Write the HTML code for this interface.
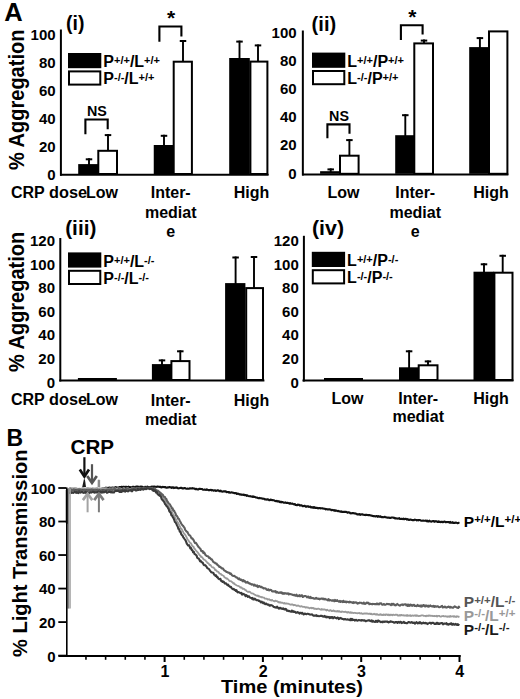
<!DOCTYPE html>
<html><head><meta charset="utf-8"><style>
html,body{margin:0;padding:0;background:#fff;width:520px;height:699px;overflow:hidden}
svg{display:block}
text{font-family:"Liberation Sans",sans-serif;font-weight:bold}
</style></head><body>
<svg width="520" height="699" viewBox="0 0 520 699">
<rect width="520" height="699" fill="#fff"/>
<text x="4.20" y="20.60" font-size="25.5" text-anchor="start" fill="#000" >A</text>
<text x="6.40" y="445.80" font-size="23" text-anchor="start" fill="#000" >B</text>
<text x="0" y="0" font-size="21.5" text-anchor="middle" textLength="140.4" lengthAdjust="spacingAndGlyphs" transform="translate(23.50,99.80) rotate(-90)">% Aggregation</text>
<text x="0" y="0" font-size="21.5" text-anchor="middle" textLength="140.1" lengthAdjust="spacingAndGlyphs" transform="translate(23.50,301.95) rotate(-90)">% Aggregation</text>
<text x="0" y="0" font-size="21" text-anchor="middle" textLength="207.5" lengthAdjust="spacingAndGlyphs" transform="translate(26.60,553.25) rotate(-90)">% Light Transmission</text>
<text x="66.00" y="29.50" font-size="19.5" text-anchor="start" fill="#000" >(i)</text>
<line x1="60.90" y1="29.50" x2="60.90" y2="175.75" stroke="#000" stroke-width="2" stroke-linecap="butt"/>
<line x1="60.00" y1="174.75" x2="268.60" y2="174.75" stroke="#000" stroke-width="2" stroke-linecap="butt"/>
<text x="55.60" y="39.50" font-size="15" text-anchor="end" fill="#000" >100</text>
<text x="55.60" y="67.60" font-size="15" text-anchor="end" fill="#000" >80</text>
<text x="55.60" y="95.70" font-size="15" text-anchor="end" fill="#000" >60</text>
<text x="55.60" y="123.80" font-size="15" text-anchor="end" fill="#000" >40</text>
<text x="55.60" y="151.90" font-size="15" text-anchor="end" fill="#000" >20</text>
<text x="55.60" y="180.00" font-size="15" text-anchor="end" fill="#000" >0</text>
<rect x="68.00" y="53.00" width="33.30" height="15.20" fill="#000"/>
<rect x="69.00" y="71.40" width="31.30" height="13.20" fill="#fff" stroke="#000" stroke-width="2"/>
<text x="103.30" y="67.20" font-size="16" fill="#000"><tspan font-size="16" dy="0.00">P</tspan><tspan font-size="11" dy="-3.00">+/+</tspan><tspan font-size="16" dy="3.00">/L</tspan><tspan font-size="11" dy="-3.00">+/+</tspan></text>
<text x="103.30" y="84.40" font-size="16" fill="#000"><tspan font-size="16" dy="0.00">P</tspan><tspan font-size="11" dy="-3.00">-/-</tspan><tspan font-size="16" dy="3.00">/L</tspan><tspan font-size="11" dy="-3.00">+/+</tspan></text>
<line x1="89.00" y1="158.30" x2="89.00" y2="165.10" stroke="#000" stroke-width="1.9" stroke-linecap="butt"/>
<line x1="85.75" y1="159.30" x2="92.25" y2="159.30" stroke="#000" stroke-width="2" stroke-linecap="butt"/>
<rect x="78.20" y="164.10" width="20.60" height="9.90" fill="#000"/>
<line x1="108.00" y1="134.10" x2="108.00" y2="150.80" stroke="#000" stroke-width="1.9" stroke-linecap="butt"/>
<line x1="104.75" y1="135.10" x2="111.25" y2="135.10" stroke="#000" stroke-width="2" stroke-linecap="butt"/>
<rect x="98.30" y="150.80" width="18.70" height="23.20" fill="#fff" stroke="#000" stroke-width="2"/>
<line x1="164.00" y1="134.80" x2="164.00" y2="146.00" stroke="#000" stroke-width="1.9" stroke-linecap="butt"/>
<line x1="160.75" y1="135.80" x2="167.25" y2="135.80" stroke="#000" stroke-width="2" stroke-linecap="butt"/>
<rect x="153.75" y="145.00" width="20.65" height="29.00" fill="#000"/>
<line x1="183.00" y1="40.00" x2="183.00" y2="61.70" stroke="#000" stroke-width="1.9" stroke-linecap="butt"/>
<line x1="179.75" y1="41.00" x2="186.25" y2="41.00" stroke="#000" stroke-width="2" stroke-linecap="butt"/>
<rect x="173.70" y="61.70" width="18.20" height="112.30" fill="#fff" stroke="#000" stroke-width="2"/>
<line x1="239.50" y1="40.60" x2="239.50" y2="59.00" stroke="#000" stroke-width="1.9" stroke-linecap="butt"/>
<line x1="236.25" y1="41.60" x2="242.75" y2="41.60" stroke="#000" stroke-width="2" stroke-linecap="butt"/>
<rect x="229.20" y="58.00" width="20.60" height="116.00" fill="#000"/>
<line x1="258.00" y1="44.40" x2="258.00" y2="61.60" stroke="#000" stroke-width="1.9" stroke-linecap="butt"/>
<line x1="254.75" y1="45.40" x2="261.25" y2="45.40" stroke="#000" stroke-width="2" stroke-linecap="butt"/>
<rect x="250.40" y="61.60" width="17.00" height="112.40" fill="#fff" stroke="#000" stroke-width="2"/>
<path d="M85.40 134.30 V119.50 H107.70 V129.20" fill="none" stroke="#000" stroke-width="2.1"/>
<text x="96.85" y="116.30" font-size="14.3" text-anchor="middle" fill="#000" >NS</text>
<path d="M159.40 41.70 V26.50 H181.40 V36.40" fill="none" stroke="#000" stroke-width="2.1"/>
<text x="171.00" y="25.30" font-size="21" text-anchor="middle" fill="#000" >*</text>
<text x="11.00" y="197.60" font-size="16" text-anchor="start" fill="#000" >CRP</text>
<text x="49.00" y="197.60" font-size="16" text-anchor="start" fill="#000" textLength="38" lengthAdjust="spacingAndGlyphs">dose</text>
<text x="86.00" y="197.60" font-size="16" text-anchor="start" fill="#000" >Low</text>
<text x="170.70" y="198.20" font-size="16" text-anchor="middle" fill="#000" >Inter-</text>
<text x="170.70" y="217.60" font-size="16" text-anchor="middle" fill="#000" >mediat</text>
<text x="170.70" y="237.00" font-size="16" text-anchor="middle" fill="#000" >e</text>
<text x="251.50" y="198.20" font-size="16" text-anchor="middle" fill="#000" >High</text>
<text x="311.60" y="30.50" font-size="19.5" text-anchor="start" fill="#000" textLength="24.6" lengthAdjust="spacingAndGlyphs">(ii)</text>
<line x1="302.85" y1="30.50" x2="302.85" y2="175.50" stroke="#000" stroke-width="2" stroke-linecap="butt"/>
<line x1="302.00" y1="174.50" x2="508.40" y2="174.50" stroke="#000" stroke-width="2" stroke-linecap="butt"/>
<text x="296.60" y="38.00" font-size="15" text-anchor="end" fill="#000" >100</text>
<text x="296.60" y="66.10" font-size="15" text-anchor="end" fill="#000" >80</text>
<text x="296.60" y="94.20" font-size="15" text-anchor="end" fill="#000" >60</text>
<text x="296.60" y="122.30" font-size="15" text-anchor="end" fill="#000" >40</text>
<text x="296.60" y="150.40" font-size="15" text-anchor="end" fill="#000" >20</text>
<text x="296.60" y="178.60" font-size="15" text-anchor="end" fill="#000" >0</text>
<rect x="312.00" y="52.60" width="33.30" height="15.20" fill="#000"/>
<rect x="313.00" y="71.00" width="31.30" height="13.20" fill="#fff" stroke="#000" stroke-width="2"/>
<text x="347.30" y="66.80" font-size="16" fill="#000"><tspan font-size="16" dy="0.00">L</tspan><tspan font-size="11" dy="-3.00">+/+</tspan><tspan font-size="16" dy="3.00">/P</tspan><tspan font-size="11" dy="-3.00">+/+</tspan></text>
<text x="347.30" y="84.00" font-size="16" fill="#000"><tspan font-size="16" dy="0.00">L</tspan><tspan font-size="11" dy="-3.00">-/-</tspan><tspan font-size="16" dy="3.00">/P</tspan><tspan font-size="11" dy="-3.00">+/+</tspan></text>
<line x1="330.70" y1="168.40" x2="330.70" y2="172.20" stroke="#000" stroke-width="1.9" stroke-linecap="butt"/>
<line x1="327.45" y1="169.40" x2="333.95" y2="169.40" stroke="#000" stroke-width="2" stroke-linecap="butt"/>
<rect x="320.10" y="171.20" width="20.10" height="2.60" fill="#000"/>
<line x1="349.40" y1="139.10" x2="349.40" y2="155.70" stroke="#000" stroke-width="1.9" stroke-linecap="butt"/>
<line x1="346.15" y1="140.10" x2="352.65" y2="140.10" stroke="#000" stroke-width="2" stroke-linecap="butt"/>
<rect x="340.00" y="155.70" width="18.60" height="18.10" fill="#fff" stroke="#000" stroke-width="2"/>
<line x1="405.30" y1="114.20" x2="405.30" y2="136.20" stroke="#000" stroke-width="1.9" stroke-linecap="butt"/>
<line x1="402.05" y1="115.20" x2="408.55" y2="115.20" stroke="#000" stroke-width="2" stroke-linecap="butt"/>
<rect x="395.20" y="135.20" width="20.00" height="38.60" fill="#000"/>
<line x1="424.00" y1="39.60" x2="424.00" y2="43.40" stroke="#000" stroke-width="1.9" stroke-linecap="butt"/>
<line x1="420.75" y1="40.60" x2="427.25" y2="40.60" stroke="#000" stroke-width="2" stroke-linecap="butt"/>
<rect x="414.30" y="43.40" width="18.70" height="130.40" fill="#fff" stroke="#000" stroke-width="2"/>
<line x1="479.90" y1="37.10" x2="479.90" y2="48.10" stroke="#000" stroke-width="1.9" stroke-linecap="butt"/>
<line x1="476.65" y1="38.10" x2="483.15" y2="38.10" stroke="#000" stroke-width="2" stroke-linecap="butt"/>
<rect x="469.20" y="47.10" width="19.60" height="126.70" fill="#000"/>
<rect x="489.00" y="31.40" width="18.40" height="142.40" fill="#fff" stroke="#000" stroke-width="2"/>
<path d="M327.40 138.30 V124.40 H349.50 V133.80" fill="none" stroke="#000" stroke-width="2.1"/>
<text x="339.05" y="120.60" font-size="14.3" text-anchor="middle" fill="#000" >NS</text>
<path d="M400.90 40.10 V25.20 H422.60 V34.60" fill="none" stroke="#000" stroke-width="2.1"/>
<text x="412.35" y="24.30" font-size="21" text-anchor="middle" fill="#000" >*</text>
<text x="327.50" y="198.40" font-size="16" text-anchor="start" fill="#000" >Low</text>
<text x="415.20" y="198.20" font-size="16" text-anchor="middle" fill="#000" >Inter-</text>
<text x="415.20" y="217.60" font-size="16" text-anchor="middle" fill="#000" >mediat</text>
<text x="415.20" y="237.00" font-size="16" text-anchor="middle" fill="#000" >e</text>
<text x="491.10" y="198.40" font-size="16" text-anchor="middle" fill="#000" >High</text>
<text x="65.20" y="235.30" font-size="19.5" text-anchor="start" fill="#000" textLength="31.2" lengthAdjust="spacingAndGlyphs">(iii)</text>
<line x1="60.30" y1="238.00" x2="60.30" y2="381.50" stroke="#000" stroke-width="2" stroke-linecap="butt"/>
<line x1="59.30" y1="380.40" x2="264.40" y2="380.40" stroke="#000" stroke-width="2" stroke-linecap="butt"/>
<text x="55.00" y="246.00" font-size="15" text-anchor="end" fill="#000" >120</text>
<text x="55.00" y="269.60" font-size="15" text-anchor="end" fill="#000" >100</text>
<text x="55.00" y="293.20" font-size="15" text-anchor="end" fill="#000" >80</text>
<text x="55.00" y="316.80" font-size="15" text-anchor="end" fill="#000" >60</text>
<text x="55.00" y="340.40" font-size="15" text-anchor="end" fill="#000" >40</text>
<text x="55.00" y="364.00" font-size="15" text-anchor="end" fill="#000" >20</text>
<text x="55.00" y="387.60" font-size="15" text-anchor="end" fill="#000" >0</text>
<rect x="68.00" y="252.40" width="33.30" height="15.20" fill="#000"/>
<rect x="69.00" y="270.80" width="31.30" height="13.20" fill="#fff" stroke="#000" stroke-width="2"/>
<text x="103.30" y="266.60" font-size="16" fill="#000"><tspan font-size="16" dy="0.00">P</tspan><tspan font-size="11" dy="-3.00">+/+</tspan><tspan font-size="16" dy="3.00">/L</tspan><tspan font-size="11" dy="-3.00">-/-</tspan></text>
<text x="103.30" y="283.80" font-size="16" fill="#000"><tspan font-size="16" dy="0.00">P</tspan><tspan font-size="11" dy="-3.00">-/-</tspan><tspan font-size="16" dy="3.00">/L</tspan><tspan font-size="11" dy="-3.00">-/-</tspan></text>
<rect x="77.90" y="378.00" width="39.00" height="2.50" fill="#000"/>
<line x1="162.00" y1="359.40" x2="162.00" y2="365.10" stroke="#000" stroke-width="1.9" stroke-linecap="butt"/>
<line x1="158.75" y1="360.40" x2="165.25" y2="360.40" stroke="#000" stroke-width="2" stroke-linecap="butt"/>
<rect x="151.90" y="364.10" width="19.60" height="15.90" fill="#000"/>
<line x1="180.30" y1="350.30" x2="180.30" y2="361.10" stroke="#000" stroke-width="1.9" stroke-linecap="butt"/>
<line x1="177.05" y1="351.30" x2="183.55" y2="351.30" stroke="#000" stroke-width="2" stroke-linecap="butt"/>
<rect x="171.40" y="361.10" width="18.10" height="18.90" fill="#fff" stroke="#000" stroke-width="2"/>
<line x1="235.60" y1="256.50" x2="235.60" y2="284.10" stroke="#000" stroke-width="1.9" stroke-linecap="butt"/>
<line x1="232.35" y1="257.50" x2="238.85" y2="257.50" stroke="#000" stroke-width="2" stroke-linecap="butt"/>
<rect x="225.10" y="283.10" width="20.30" height="96.90" fill="#000"/>
<line x1="254.00" y1="256.00" x2="254.00" y2="288.10" stroke="#000" stroke-width="1.9" stroke-linecap="butt"/>
<line x1="250.75" y1="257.00" x2="257.25" y2="257.00" stroke="#000" stroke-width="2" stroke-linecap="butt"/>
<rect x="246.20" y="288.10" width="16.80" height="91.90" fill="#fff" stroke="#000" stroke-width="2"/>
<text x="11.00" y="405.30" font-size="16" text-anchor="start" fill="#000" >CRP</text>
<text x="49.00" y="405.30" font-size="16" text-anchor="start" fill="#000" textLength="38" lengthAdjust="spacingAndGlyphs">dose</text>
<text x="86.00" y="405.30" font-size="16" text-anchor="start" fill="#000" >Low</text>
<text x="170.70" y="405.90" font-size="16" text-anchor="middle" fill="#000" >Inter-</text>
<text x="170.70" y="425.30" font-size="16" text-anchor="middle" fill="#000" >mediat</text>
<text x="251.50" y="405.90" font-size="16" text-anchor="middle" fill="#000" >High</text>
<text x="312.00" y="235.30" font-size="19.5" text-anchor="start" fill="#000" textLength="32" lengthAdjust="spacingAndGlyphs">(iv)</text>
<line x1="303.90" y1="235.80" x2="303.90" y2="381.50" stroke="#000" stroke-width="2" stroke-linecap="butt"/>
<line x1="302.50" y1="380.50" x2="513.50" y2="380.50" stroke="#000" stroke-width="2" stroke-linecap="butt"/>
<text x="298.80" y="246.00" font-size="15" text-anchor="end" fill="#000" >120</text>
<text x="298.80" y="269.60" font-size="15" text-anchor="end" fill="#000" >100</text>
<text x="298.80" y="293.20" font-size="15" text-anchor="end" fill="#000" >80</text>
<text x="298.80" y="316.80" font-size="15" text-anchor="end" fill="#000" >60</text>
<text x="298.80" y="340.40" font-size="15" text-anchor="end" fill="#000" >40</text>
<text x="298.80" y="364.00" font-size="15" text-anchor="end" fill="#000" >20</text>
<text x="298.80" y="387.60" font-size="15" text-anchor="end" fill="#000" >0</text>
<rect x="311.80" y="251.80" width="33.30" height="15.20" fill="#000"/>
<rect x="312.80" y="270.20" width="31.30" height="13.20" fill="#fff" stroke="#000" stroke-width="2"/>
<text x="347.10" y="266.00" font-size="16" fill="#000"><tspan font-size="16" dy="0.00">L</tspan><tspan font-size="11" dy="-3.00">+/+</tspan><tspan font-size="16" dy="3.00">/P</tspan><tspan font-size="11" dy="-3.00">-/-</tspan></text>
<text x="347.10" y="283.20" font-size="16" fill="#000"><tspan font-size="16" dy="0.00">L</tspan><tspan font-size="11" dy="-3.00">-/-</tspan><tspan font-size="16" dy="3.00">/P</tspan><tspan font-size="11" dy="-3.00">-/-</tspan></text>
<rect x="324.00" y="378.00" width="39.00" height="2.50" fill="#000"/>
<line x1="409.10" y1="350.30" x2="409.10" y2="368.30" stroke="#000" stroke-width="1.9" stroke-linecap="butt"/>
<line x1="405.85" y1="351.30" x2="412.35" y2="351.30" stroke="#000" stroke-width="2" stroke-linecap="butt"/>
<rect x="399.00" y="367.30" width="19.80" height="12.70" fill="#000"/>
<line x1="428.00" y1="360.40" x2="428.00" y2="365.30" stroke="#000" stroke-width="1.9" stroke-linecap="butt"/>
<line x1="424.75" y1="361.40" x2="431.25" y2="361.40" stroke="#000" stroke-width="2" stroke-linecap="butt"/>
<rect x="418.70" y="365.30" width="18.80" height="14.70" fill="#fff" stroke="#000" stroke-width="2"/>
<line x1="484.00" y1="263.30" x2="484.00" y2="272.70" stroke="#000" stroke-width="1.9" stroke-linecap="butt"/>
<line x1="480.75" y1="264.30" x2="487.25" y2="264.30" stroke="#000" stroke-width="2" stroke-linecap="butt"/>
<rect x="473.50" y="271.70" width="20.60" height="108.30" fill="#000"/>
<line x1="502.70" y1="254.80" x2="502.70" y2="272.70" stroke="#000" stroke-width="1.9" stroke-linecap="butt"/>
<line x1="499.45" y1="255.80" x2="505.95" y2="255.80" stroke="#000" stroke-width="2" stroke-linecap="butt"/>
<rect x="494.40" y="272.70" width="18.10" height="107.30" fill="#fff" stroke="#000" stroke-width="2"/>
<text x="331.50" y="403.50" font-size="16" text-anchor="start" fill="#000" >Low</text>
<text x="418.20" y="403.50" font-size="16" text-anchor="middle" fill="#000" >Inter-</text>
<text x="418.20" y="422.00" font-size="16" text-anchor="middle" fill="#000" >mediat</text>
<text x="491.10" y="403.50" font-size="16" text-anchor="middle" fill="#000" >High</text>
<line x1="58.50" y1="655.95" x2="460.60" y2="655.95" stroke="#000" stroke-width="2" stroke-linecap="butt"/>
<line x1="58.30" y1="655.60" x2="66.30" y2="655.60" stroke="#000" stroke-width="1.8" stroke-linecap="butt"/>
<text x="55.70" y="661.50" font-size="15" text-anchor="end" fill="#000" >0</text>
<line x1="58.30" y1="622.08" x2="66.30" y2="622.08" stroke="#000" stroke-width="1.8" stroke-linecap="butt"/>
<text x="55.70" y="627.98" font-size="15" text-anchor="end" fill="#000" >20</text>
<line x1="58.30" y1="588.56" x2="66.30" y2="588.56" stroke="#000" stroke-width="1.8" stroke-linecap="butt"/>
<text x="55.70" y="594.46" font-size="15" text-anchor="end" fill="#000" >40</text>
<line x1="58.30" y1="555.04" x2="66.30" y2="555.04" stroke="#000" stroke-width="1.8" stroke-linecap="butt"/>
<text x="55.70" y="560.94" font-size="15" text-anchor="end" fill="#000" >60</text>
<line x1="58.30" y1="521.52" x2="66.30" y2="521.52" stroke="#000" stroke-width="1.8" stroke-linecap="butt"/>
<text x="55.70" y="527.42" font-size="15" text-anchor="end" fill="#000" >80</text>
<line x1="58.30" y1="488.00" x2="66.30" y2="488.00" stroke="#000" stroke-width="1.8" stroke-linecap="butt"/>
<text x="55.70" y="493.90" font-size="15" text-anchor="end" fill="#000" >100</text>
<line x1="85.96" y1="655.00" x2="85.96" y2="659.80" stroke="#000" stroke-width="1.6" stroke-linecap="butt"/>
<line x1="105.62" y1="655.00" x2="105.62" y2="659.80" stroke="#000" stroke-width="1.6" stroke-linecap="butt"/>
<line x1="125.28" y1="655.00" x2="125.28" y2="659.80" stroke="#000" stroke-width="1.6" stroke-linecap="butt"/>
<line x1="144.94" y1="655.00" x2="144.94" y2="659.80" stroke="#000" stroke-width="1.6" stroke-linecap="butt"/>
<line x1="164.60" y1="655.00" x2="164.60" y2="662.00" stroke="#000" stroke-width="2" stroke-linecap="butt"/>
<text x="164.90" y="676.60" font-size="16" text-anchor="middle" fill="#000" >1</text>
<line x1="184.26" y1="655.00" x2="184.26" y2="659.80" stroke="#000" stroke-width="1.6" stroke-linecap="butt"/>
<line x1="203.92" y1="655.00" x2="203.92" y2="659.80" stroke="#000" stroke-width="1.6" stroke-linecap="butt"/>
<line x1="223.58" y1="655.00" x2="223.58" y2="659.80" stroke="#000" stroke-width="1.6" stroke-linecap="butt"/>
<line x1="243.24" y1="655.00" x2="243.24" y2="659.80" stroke="#000" stroke-width="1.6" stroke-linecap="butt"/>
<line x1="262.90" y1="655.00" x2="262.90" y2="662.00" stroke="#000" stroke-width="2" stroke-linecap="butt"/>
<text x="263.20" y="676.60" font-size="16" text-anchor="middle" fill="#000" >2</text>
<line x1="282.56" y1="655.00" x2="282.56" y2="659.80" stroke="#000" stroke-width="1.6" stroke-linecap="butt"/>
<line x1="302.22" y1="655.00" x2="302.22" y2="659.80" stroke="#000" stroke-width="1.6" stroke-linecap="butt"/>
<line x1="321.88" y1="655.00" x2="321.88" y2="659.80" stroke="#000" stroke-width="1.6" stroke-linecap="butt"/>
<line x1="341.54" y1="655.00" x2="341.54" y2="659.80" stroke="#000" stroke-width="1.6" stroke-linecap="butt"/>
<line x1="361.20" y1="655.00" x2="361.20" y2="662.00" stroke="#000" stroke-width="2" stroke-linecap="butt"/>
<text x="361.50" y="676.60" font-size="16" text-anchor="middle" fill="#000" >3</text>
<line x1="380.86" y1="655.00" x2="380.86" y2="659.80" stroke="#000" stroke-width="1.6" stroke-linecap="butt"/>
<line x1="400.52" y1="655.00" x2="400.52" y2="659.80" stroke="#000" stroke-width="1.6" stroke-linecap="butt"/>
<line x1="420.18" y1="655.00" x2="420.18" y2="659.80" stroke="#000" stroke-width="1.6" stroke-linecap="butt"/>
<line x1="439.84" y1="655.00" x2="439.84" y2="659.80" stroke="#000" stroke-width="1.6" stroke-linecap="butt"/>
<line x1="459.50" y1="655.00" x2="459.50" y2="662.00" stroke="#000" stroke-width="2" stroke-linecap="butt"/>
<text x="459.80" y="676.60" font-size="16" text-anchor="middle" fill="#000" >4</text>
<text x="221.00" y="693.40" font-size="19" text-anchor="start" fill="#000" textLength="142" lengthAdjust="spacingAndGlyphs">Time (minutes)</text>
<path d="M66.80 490.00 L66.80 522.84 L67.50 522.69 L68.20 490.14 L68.90 489.62 L69.60 490.04 L70.30 489.89 L71.00 489.62 L71.70 490.03 L72.40 489.62 L73.10 489.98 L73.80 489.67 L74.50 489.70 L75.20 490.01 L75.90 490.38 L76.60 489.76 L77.30 489.86 L78.00 490.24 L78.70 490.54 L79.40 490.22 L80.10 490.07 L80.80 490.60 L81.50 489.78 L82.20 490.52 L82.90 490.01 L83.60 489.89 L84.30 489.87 L85.00 490.05 L85.70 490.51 L86.40 489.94 L87.10 490.30 L87.80 490.35 L88.50 490.11 L89.20 490.26 L89.90 489.81 L90.60 489.80 L91.30 489.91 L92.00 490.32 L92.70 490.08 L93.40 489.95 L94.10 490.17 L94.80 490.02 L95.50 489.85 L96.20 490.25 L96.90 490.11 L97.60 489.61 L98.30 489.79 L99.00 489.62 L99.70 489.79 L100.40 489.50 L101.10 488.93 L101.80 489.39 L102.50 488.44 L103.20 488.54 L103.90 488.68 L104.60 487.98 L105.30 488.14 L106.00 487.61 L106.70 488.08 L107.40 488.08 L108.10 487.86 L108.80 488.09 L109.50 487.55 L110.20 487.85 L110.90 487.73 L111.60 487.68 L112.30 487.53 L113.00 487.84 L113.70 487.91 L114.40 487.45 L115.10 487.59 L115.80 487.02 L116.50 487.57 L117.20 487.49 L117.90 487.77 L118.60 487.59 L119.30 487.08 L120.00 487.15 L120.70 487.38 L121.40 486.78 L122.10 487.15 L122.80 486.87 L123.50 486.80 L124.20 486.73 L124.90 487.35 L125.60 486.76 L126.30 486.85 L127.00 486.96 L127.70 487.38 L128.40 486.65 L129.10 486.97 L129.80 487.04 L130.50 487.33 L131.20 487.26 L131.90 487.29 L132.60 486.76 L133.30 486.87 L134.00 486.81 L134.70 487.27 L135.40 487.33 L136.10 486.60 L136.80 486.62 L137.50 486.66 L138.20 486.66 L138.90 486.88 L139.60 486.97 L140.30 486.67 L141.00 486.44 L141.70 486.81 L142.40 486.76 L143.10 486.94 L143.80 487.29 L144.50 487.05 L145.20 486.89 L145.90 486.99 L146.60 487.04 L147.30 486.48 L148.00 487.25 L148.70 487.14 L149.40 487.23 L150.10 487.17 L150.80 486.81 L151.50 486.82 L152.20 486.57 L152.90 487.05 L153.60 486.55 L154.30 486.57 L155.00 486.71 L155.70 486.68 L156.40 486.86 L157.10 486.62 L157.80 486.59 L158.50 486.75 L159.20 486.72 L159.90 486.98 L160.60 486.70 L161.30 487.49 L162.00 487.28 L162.70 486.89 L163.40 487.01 L164.10 487.12 L164.80 487.17 L165.50 486.98 L166.20 487.66 L166.90 487.82 L167.60 487.38 L168.30 487.43 L169.00 487.10 L169.70 487.15 L170.40 487.40 L171.10 487.37 L171.80 487.91 L172.50 487.34 L173.20 487.25 L173.90 488.12 L174.60 487.77 L175.30 487.47 L176.00 487.86 L176.70 487.43 L177.40 487.91 L178.10 488.35 L178.80 488.29 L179.50 488.17 L180.20 487.81 L180.90 487.94 L181.60 487.80 L182.30 488.37 L183.00 488.19 L183.70 488.45 L184.40 488.07 L185.10 488.01 L185.80 488.57 L186.50 488.76 L187.20 488.67 L187.90 488.66 L188.60 488.70 L189.30 488.66 L190.00 488.23 L190.70 488.53 L191.40 488.42 L192.10 488.16 L192.80 488.19 L193.50 488.46 L194.20 488.48 L194.90 488.91 L195.60 489.19 L196.30 488.78 L197.00 489.26 L197.70 489.36 L198.40 489.38 L199.10 488.90 L199.80 488.83 L200.50 488.90 L201.20 488.93 L201.90 488.99 L202.60 489.43 L203.30 489.74 L204.00 489.74 L204.70 489.47 L205.40 489.69 L206.10 489.88 L206.80 489.29 L207.50 489.87 L208.20 490.15 L208.90 490.10 L209.60 490.13 L210.30 489.94 L211.00 489.74 L211.70 490.35 L212.40 490.00 L213.10 490.49 L213.80 490.71 L214.50 490.26 L215.20 490.33 L215.90 490.89 L216.60 490.76 L217.30 490.33 L218.00 490.37 L218.70 490.47 L219.40 491.22 L220.10 491.21 L220.80 490.70 L221.50 491.40 L222.20 491.62 L222.90 491.42 L223.60 491.23 L224.30 491.51 L225.00 491.23 L225.70 491.22 L226.40 492.18 L227.10 492.00 L227.80 491.99 L228.50 492.47 L229.20 492.14 L229.90 492.65 L230.60 492.73 L231.30 492.29 L232.00 492.45 L232.70 492.62 L233.40 492.70 L234.10 493.14 L234.80 492.98 L235.50 493.26 L236.20 493.13 L236.90 493.97 L237.60 493.61 L238.30 493.84 L239.00 494.09 L239.70 494.52 L240.40 494.23 L241.10 494.82 L241.80 494.59 L242.50 494.76 L243.20 494.89 L243.90 494.58 L244.60 495.10 L245.30 495.01 L246.00 494.99 L246.70 495.85 L247.40 495.42 L248.10 495.83 L248.80 496.19 L249.50 496.18 L250.20 496.11 L250.90 496.41 L251.60 496.58 L252.30 496.91 L253.00 496.43 L253.70 496.97 L254.40 496.82 L255.10 496.97 L255.80 497.54 L256.50 497.43 L257.20 497.61 L257.90 497.91 L258.60 498.18 L259.30 497.88 L260.00 498.16 L260.70 498.19 L261.40 498.32 L262.10 498.61 L262.80 498.52 L263.50 498.72 L264.20 498.80 L264.90 499.34 L265.60 499.25 L266.30 499.54 L267.00 499.72 L267.70 499.23 L268.40 499.63 L269.10 500.10 L269.80 500.13 L270.50 499.62 L271.20 499.74 L271.90 500.15 L272.60 499.94 L273.30 500.22 L274.00 500.19 L274.70 500.86 L275.40 501.09 L276.10 501.31 L276.80 500.77 L277.50 501.40 L278.20 501.48 L278.90 501.14 L279.60 501.94 L280.30 502.14 L281.00 501.60 L281.70 502.38 L282.40 502.02 L283.10 502.23 L283.80 502.81 L284.50 502.80 L285.20 502.32 L285.90 502.70 L286.60 502.91 L287.30 502.88 L288.00 502.88 L288.70 503.12 L289.40 503.62 L290.10 503.11 L290.80 503.72 L291.50 503.75 L292.20 503.50 L292.90 503.91 L293.60 504.30 L294.30 504.33 L295.00 504.06 L295.70 505.01 L296.40 504.96 L297.10 505.25 L297.80 504.59 L298.50 504.86 L299.20 504.78 L299.90 505.57 L300.60 505.23 L301.30 505.22 L302.00 505.60 L302.70 506.16 L303.40 506.19 L304.10 505.80 L304.80 505.81 L305.50 506.62 L306.20 506.41 L306.90 506.64 L307.60 506.20 L308.30 506.28 L309.00 506.95 L309.70 506.82 L310.40 506.61 L311.10 507.49 L311.80 507.32 L312.50 507.57 L313.20 507.03 L313.90 507.82 L314.60 507.21 L315.30 508.03 L316.00 507.76 L316.70 507.76 L317.40 508.05 L318.10 508.48 L318.80 507.99 L319.50 507.96 L320.20 508.42 L320.90 508.26 L321.60 508.24 L322.30 508.38 L323.00 508.38 L323.70 508.62 L324.40 508.81 L325.10 508.90 L325.80 509.41 L326.50 509.09 L327.20 509.37 L327.90 509.18 L328.60 509.43 L329.30 509.24 L330.00 509.55 L330.70 509.44 L331.40 510.18 L332.10 510.12 L332.80 509.90 L333.50 510.26 L334.20 510.77 L334.90 510.13 L335.60 510.88 L336.30 510.63 L337.00 510.80 L337.70 511.21 L338.40 510.92 L339.10 511.14 L339.80 511.41 L340.50 511.79 L341.20 511.32 L341.90 511.87 L342.60 511.87 L343.30 511.92 L344.00 511.83 L344.70 511.89 L345.40 511.74 L346.10 511.92 L346.80 511.98 L347.50 512.70 L348.20 512.37 L348.90 512.40 L349.60 512.44 L350.30 513.23 L351.00 513.37 L351.70 513.30 L352.40 513.06 L353.10 513.13 L353.80 513.29 L354.50 513.54 L355.20 513.38 L355.90 513.74 L356.60 513.68 L357.30 514.41 L358.00 514.52 L358.70 514.23 L359.40 514.06 L360.10 514.80 L360.80 514.30 L361.50 514.44 L362.20 514.21 L362.90 514.64 L363.60 514.81 L364.30 514.92 L365.00 514.73 L365.70 515.09 L366.40 514.72 L367.10 515.03 L367.80 514.95 L368.50 515.31 L369.20 515.07 L369.90 515.13 L370.60 515.45 L371.30 515.46 L372.00 515.86 L372.70 515.88 L373.40 516.15 L374.10 516.14 L374.80 516.26 L375.50 516.48 L376.20 516.11 L376.90 516.13 L377.60 516.79 L378.30 516.11 L379.00 516.69 L379.70 516.69 L380.40 516.22 L381.10 517.00 L381.80 517.12 L382.50 516.96 L383.20 517.12 L383.90 517.26 L384.60 516.73 L385.30 517.15 L386.00 517.20 L386.70 517.57 L387.40 517.62 L388.10 517.71 L388.80 517.56 L389.50 517.91 L390.20 517.80 L390.90 517.88 L391.60 517.54 L392.30 517.43 L393.00 517.60 L393.70 517.88 L394.40 517.72 L395.10 518.45 L395.80 518.28 L396.50 518.41 L397.20 518.49 L397.90 518.61 L398.60 518.51 L399.30 518.14 L400.00 518.93 L400.70 518.96 L401.40 518.81 L402.10 518.91 L402.80 519.09 L403.50 518.63 L404.20 519.30 L404.90 518.93 L405.60 518.84 L406.30 519.08 L407.00 519.57 L407.70 519.16 L408.40 519.71 L409.10 519.98 L409.80 519.61 L410.50 519.58 L411.20 519.73 L411.90 519.97 L412.60 520.11 L413.30 520.03 L414.00 520.11 L414.70 519.66 L415.40 519.78 L416.10 519.93 L416.80 520.43 L417.50 520.08 L418.20 520.37 L418.90 519.93 L419.60 520.02 L420.30 520.26 L421.00 520.67 L421.70 520.74 L422.40 520.77 L423.10 520.48 L423.80 520.73 L424.50 520.73 L425.20 520.78 L425.90 520.51 L426.60 521.25 L427.30 520.67 L428.00 521.42 L428.70 521.43 L429.40 520.65 L430.10 521.09 L430.80 521.46 L431.50 521.64 L432.20 521.21 L432.90 521.10 L433.60 521.09 L434.30 521.79 L435.00 521.18 L435.70 521.56 L436.40 521.21 L437.10 521.60 L437.80 522.03 L438.50 521.34 L439.20 522.00 L439.90 521.77 L440.60 522.15 L441.30 522.03 L442.00 521.66 L442.70 522.30 L443.40 521.97 L444.10 521.60 L444.80 521.63 L445.50 522.11 L446.20 522.12 L446.90 522.03 L447.60 521.93 L448.30 522.16 L449.00 522.17 L449.70 522.69 L450.40 521.98 L451.10 522.70 L451.80 522.82 L452.50 522.22 L453.20 522.98 L453.90 522.84 L454.60 523.05 L455.30 522.54 L456.00 522.66 L456.70 522.72 L457.40 523.31 L458.10 522.99 L458.80 522.82 L459.50 522.93" fill="none" stroke="#111" stroke-width="2.1" stroke-linejoin="round"/>
<path d="M69.60 488.40 L69.60 488.18 L70.30 487.96 L71.00 488.01 L71.70 488.75 L72.40 488.20 L73.10 488.85 L73.80 488.17 L74.50 488.19 L75.20 488.44 L75.90 488.12 L76.60 488.30 L77.30 488.89 L78.00 488.82 L78.70 488.75 L79.40 488.57 L80.10 488.86 L80.80 488.89 L81.50 488.50 L82.20 488.67 L82.90 488.00 L83.60 488.69 L84.30 488.41 L85.00 488.71 L85.70 488.61 L86.40 488.25 L87.10 488.02 L87.80 488.90 L88.50 488.10 L89.20 488.45 L89.90 488.32 L90.60 488.28 L91.30 488.72 L92.00 488.96 L92.70 488.24 L93.40 488.64 L94.10 488.29 L94.80 488.55 L95.50 488.39 L96.20 488.16 L96.90 488.16 L97.60 488.20 L98.30 488.90 L99.00 488.50 L99.70 488.22 L100.40 488.91 L101.10 489.00 L101.80 488.45 L102.50 488.14 L103.20 488.20 L103.90 488.10 L104.60 488.35 L105.30 488.10 L106.00 488.25 L106.70 488.27 L107.40 488.58 L108.10 488.90 L108.80 488.76 L109.50 488.43 L110.20 488.43 L110.90 488.54 L111.60 488.40 L112.30 488.36 L113.00 488.08 L113.70 488.30 L114.40 488.99 L115.10 488.15 L115.80 488.53 L116.50 488.65 L117.20 488.89 L117.90 488.24 L118.60 488.29 L119.30 488.27 L120.00 488.42 L120.70 488.47 L121.40 488.97 L122.10 488.87 L122.80 488.89 L123.50 488.04 L124.20 488.05 L124.90 488.73 L125.60 488.91 L126.30 488.49 L127.00 488.60 L127.70 488.01 L128.40 488.40 L129.10 488.93 L129.80 488.83 L130.50 488.85 L131.20 488.96 L131.90 488.22 L132.60 488.07 L133.30 488.09 L134.00 488.44 L134.70 488.57 L135.40 488.80 L136.10 488.55 L136.80 488.45 L137.50 488.54 L138.20 488.20 L138.90 488.27 L139.60 487.73 L140.30 488.45 L141.00 487.88 L141.70 488.56 L142.40 488.27 L143.10 487.92 L143.80 487.74 L144.50 487.87 L145.20 488.26 L145.90 488.34 L146.60 487.77 L147.30 487.76 L148.00 488.25 L148.70 488.36 L149.40 488.23 L150.10 488.16 L150.80 488.67 L151.50 488.24 L152.20 488.74 L152.90 489.13 L153.60 489.90 L154.30 489.88 L155.00 490.46 L155.70 490.41 L156.40 490.57 L157.10 491.05 L157.80 492.30 L158.50 492.64 L159.20 492.90 L159.90 493.32 L160.60 494.55 L161.30 495.52 L162.00 496.13 L162.70 496.89 L163.40 498.27 L164.10 499.54 L164.80 499.89 L165.50 500.76 L166.20 502.15 L166.90 503.35 L167.60 504.77 L168.30 505.48 L169.00 507.29 L169.70 508.46 L170.40 509.45 L171.10 510.38 L171.80 512.38 L172.50 512.97 L173.20 514.73 L173.90 515.40 L174.60 516.65 L175.30 518.45 L176.00 519.25 L176.70 521.15 L177.40 521.94 L178.10 522.86 L178.80 524.13 L179.50 525.56 L180.20 527.04 L180.90 528.56 L181.60 528.98 L182.30 530.44 L183.00 531.45 L183.70 533.38 L184.40 533.69 L185.10 534.71 L185.80 535.80 L186.50 537.20 L187.20 538.74 L187.90 539.76 L188.60 540.62 L189.30 541.88 L190.00 542.80 L190.70 543.17 L191.40 544.00 L192.10 545.71 L192.80 546.47 L193.50 546.71 L194.20 548.31 L194.90 548.98 L195.60 549.93 L196.30 550.83 L197.00 551.58 L197.70 552.30 L198.40 553.42 L199.10 554.30 L199.80 555.65 L200.50 555.53 L201.20 557.07 L201.90 557.01 L202.60 557.85 L203.30 559.00 L204.00 559.68 L204.70 559.97 L205.40 560.26 L206.10 561.35 L206.80 561.91 L207.50 563.11 L208.20 563.04 L208.90 563.86 L209.60 565.03 L210.30 564.80 L211.00 565.81 L211.70 566.84 L212.40 567.41 L213.10 567.30 L213.80 567.90 L214.50 568.53 L215.20 569.99 L215.90 569.92 L216.60 570.99 L217.30 571.72 L218.00 571.73 L218.70 572.23 L219.40 573.48 L220.10 573.69 L220.80 573.88 L221.50 574.88 L222.20 575.01 L222.90 575.50 L223.60 575.76 L224.30 577.03 L225.00 577.70 L225.70 577.93 L226.40 578.74 L227.10 578.32 L227.80 579.02 L228.50 579.75 L229.20 580.71 L229.90 581.18 L230.60 581.09 L231.30 581.42 L232.00 582.06 L232.70 582.58 L233.40 583.47 L234.10 583.17 L234.80 584.23 L235.50 584.61 L236.20 585.13 L236.90 585.51 L237.60 585.77 L238.30 585.91 L239.00 586.32 L239.70 586.77 L240.40 587.60 L241.10 587.30 L241.80 587.81 L242.50 588.76 L243.20 588.65 L243.90 588.85 L244.60 589.19 L245.30 590.09 L246.00 590.23 L246.70 591.25 L247.40 591.51 L248.10 591.97 L248.80 591.59 L249.50 591.75 L250.20 592.11 L250.90 592.84 L251.60 593.38 L252.30 593.44 L253.00 593.54 L253.70 594.04 L254.40 594.55 L255.10 594.90 L255.80 595.27 L256.50 595.66 L257.20 595.76 L257.90 595.50 L258.60 596.49 L259.30 596.21 L260.00 596.74 L260.70 596.80 L261.40 597.40 L262.10 597.10 L262.80 597.38 L263.50 597.61 L264.20 597.73 L264.90 598.68 L265.60 598.58 L266.30 598.54 L267.00 598.81 L267.70 599.60 L268.40 599.31 L269.10 599.22 L269.80 599.99 L270.50 600.02 L271.20 600.54 L271.90 599.83 L272.60 600.38 L273.30 600.90 L274.00 601.10 L274.70 601.34 L275.40 600.64 L276.10 601.07 L276.80 601.07 L277.50 601.31 L278.20 602.27 L278.90 602.05 L279.60 602.56 L280.30 602.17 L281.00 602.83 L281.70 602.57 L282.40 602.55 L283.10 603.22 L283.80 603.55 L284.50 602.86 L285.20 603.51 L285.90 603.68 L286.60 603.43 L287.30 603.73 L288.00 603.65 L288.70 603.86 L289.40 604.05 L290.10 604.54 L290.80 604.73 L291.50 604.42 L292.20 604.37 L292.90 604.82 L293.60 605.31 L294.30 604.95 L295.00 605.21 L295.70 605.23 L296.40 605.95 L297.10 605.83 L297.80 605.47 L298.50 605.64 L299.20 606.05 L299.90 606.33 L300.60 606.54 L301.30 606.12 L302.00 606.31 L302.70 606.95 L303.40 606.78 L304.10 606.77 L304.80 606.91 L305.50 607.66 L306.20 607.13 L306.90 607.50 L307.60 607.39 L308.30 607.56 L309.00 608.11 L309.70 608.35 L310.40 607.81 L311.10 607.75 L311.80 608.38 L312.50 607.95 L313.20 607.85 L313.90 608.84 L314.60 608.46 L315.30 608.95 L316.00 608.63 L316.70 609.20 L317.40 608.87 L318.10 608.66 L318.80 608.60 L319.50 609.23 L320.20 609.41 L320.90 609.76 L321.60 609.03 L322.30 609.65 L323.00 609.48 L323.70 609.70 L324.40 609.42 L325.10 609.64 L325.80 609.96 L326.50 610.45 L327.20 609.72 L327.90 610.18 L328.60 610.58 L329.30 610.82 L330.00 610.13 L330.70 610.14 L331.40 611.04 L332.10 611.15 L332.80 610.74 L333.50 610.39 L334.20 611.34 L334.90 610.88 L335.60 611.47 L336.30 611.27 L337.00 611.55 L337.70 610.96 L338.40 611.66 L339.10 611.17 L339.80 611.43 L340.50 611.95 L341.20 612.00 L341.90 611.43 L342.60 611.54 L343.30 611.79 L344.00 611.98 L344.70 611.92 L345.40 611.73 L346.10 611.92 L346.80 612.47 L347.50 612.71 L348.20 611.92 L348.90 612.51 L349.60 612.77 L350.30 612.11 L351.00 612.97 L351.70 612.32 L352.40 612.86 L353.10 612.87 L353.80 613.01 L354.50 612.75 L355.20 612.92 L355.90 613.14 L356.60 613.04 L357.30 613.33 L358.00 613.17 L358.70 613.22 L359.40 612.85 L360.10 613.50 L360.80 613.42 L361.50 613.22 L362.20 613.79 L362.90 613.86 L363.60 613.58 L364.30 613.35 L365.00 613.69 L365.70 613.36 L366.40 613.43 L367.10 613.77 L367.80 613.47 L368.50 613.86 L369.20 613.97 L369.90 613.54 L370.60 614.17 L371.30 613.66 L372.00 614.35 L372.70 614.43 L373.40 614.19 L374.10 613.77 L374.80 614.25 L375.50 614.16 L376.20 614.77 L376.90 613.98 L377.60 614.74 L378.30 614.91 L379.00 614.67 L379.70 614.79 L380.40 614.19 L381.10 615.01 L381.80 614.55 L382.50 615.04 L383.20 615.03 L383.90 614.30 L384.60 614.95 L385.30 615.12 L386.00 614.28 L386.70 614.60 L387.40 615.03 L388.10 614.45 L388.80 615.22 L389.50 614.62 L390.20 615.19 L390.90 614.54 L391.60 614.92 L392.30 615.36 L393.00 614.67 L393.70 614.75 L394.40 615.02 L395.10 614.86 L395.80 614.60 L396.50 614.77 L397.20 614.77 L397.90 615.56 L398.60 615.33 L399.30 615.57 L400.00 614.86 L400.70 615.50 L401.40 614.85 L402.10 615.29 L402.80 615.42 L403.50 615.16 L404.20 615.69 L404.90 615.40 L405.60 615.44 L406.30 615.77 L407.00 615.01 L407.70 615.92 L408.40 615.57 L409.10 615.36 L409.80 615.78 L410.50 615.27 L411.20 616.01 L411.90 615.62 L412.60 615.42 L413.30 615.84 L414.00 615.54 L414.70 615.29 L415.40 615.87 L416.10 615.20 L416.80 615.99 L417.50 615.44 L418.20 615.84 L418.90 616.20 L419.60 615.82 L420.30 615.92 L421.00 615.59 L421.70 615.29 L422.40 615.34 L423.10 615.47 L423.80 615.96 L424.50 615.79 L425.20 615.89 L425.90 616.29 L426.60 615.54 L427.30 615.65 L428.00 616.10 L428.70 615.48 L429.40 615.48 L430.10 615.85 L430.80 615.62 L431.50 615.88 L432.20 615.77 L432.90 616.14 L433.60 616.16 L434.30 615.80 L435.00 616.23 L435.70 616.10 L436.40 615.78 L437.10 616.59 L437.80 615.92 L438.50 615.84 L439.20 615.80 L439.90 616.36 L440.60 616.61 L441.30 616.54 L442.00 616.17 L442.70 616.05 L443.40 615.82 L444.10 616.47 L444.80 616.40 L445.50 616.20 L446.20 616.52 L446.90 616.33 L447.60 616.84 L448.30 616.65 L449.00 616.19 L449.70 616.86 L450.40 616.01 L451.10 616.52 L451.80 616.41 L452.50 616.26 L453.20 616.10 L453.90 616.83 L454.60 616.09 L455.30 616.64 L456.00 617.05 L456.70 616.27 L457.40 616.34 L458.10 616.77 L458.80 616.69 L459.50 616.84" fill="none" stroke="#9a9a9a" stroke-width="1.8" stroke-linejoin="round"/>
<path d="M68.30 490.20 L68.30 490.70 L69.00 489.68 L69.70 489.90 L70.40 489.88 L71.10 489.48 L71.80 490.83 L72.50 490.66 L73.20 490.56 L73.90 489.42 L74.60 490.77 L75.30 490.61 L76.00 490.17 L76.70 490.61 L77.40 490.16 L78.10 489.80 L78.80 489.61 L79.50 489.81 L80.20 489.51 L80.90 489.99 L81.60 490.65 L82.30 490.57 L83.00 490.81 L83.70 490.60 L84.40 489.89 L85.10 490.35 L85.80 490.17 L86.50 490.73 L87.20 490.31 L87.90 489.90 L88.60 490.50 L89.30 491.02 L90.00 489.82 L90.70 490.88 L91.40 489.50 L92.10 489.89 L92.80 489.85 L93.50 490.66 L94.20 490.97 L94.90 490.65 L95.60 489.98 L96.30 490.85 L97.00 489.97 L97.70 489.81 L98.40 490.88 L99.10 490.42 L99.80 490.51 L100.50 490.46 L101.20 490.95 L101.90 490.12 L102.60 490.70 L103.30 490.46 L104.00 490.70 L104.70 490.01 L105.40 490.45 L106.10 490.19 L106.80 489.75 L107.50 489.58 L108.20 490.22 L108.90 489.33 L109.60 490.64 L110.30 489.39 L111.00 489.18 L111.70 489.29 L112.40 490.58 L113.10 489.63 L113.80 489.28 L114.50 489.07 L115.20 489.07 L115.90 490.09 L116.60 489.97 L117.30 490.04 L118.00 490.08 L118.70 488.98 L119.40 489.80 L120.10 489.40 L120.80 490.10 L121.50 490.08 L122.20 490.17 L122.90 488.82 L123.60 490.07 L124.30 490.11 L125.00 490.13 L125.70 488.76 L126.40 488.89 L127.10 488.71 L127.80 488.55 L128.50 489.82 L129.20 489.74 L129.90 489.42 L130.60 489.69 L131.30 489.34 L132.00 488.74 L132.70 488.39 L133.40 488.33 L134.10 489.32 L134.80 488.37 L135.50 488.49 L136.20 488.58 L136.90 487.87 L137.60 488.18 L138.30 488.15 L139.00 488.77 L139.70 488.15 L140.40 488.01 L141.10 488.98 L141.80 488.19 L142.50 488.69 L143.20 488.28 L143.90 487.30 L144.60 487.88 L145.30 487.90 L146.00 488.42 L146.70 487.73 L147.40 488.31 L148.10 488.06 L148.80 487.59 L149.50 488.70 L150.20 487.57 L150.90 488.86 L151.60 487.98 L152.30 487.89 L153.00 488.42 L153.70 489.54 L154.40 490.13 L155.10 488.84 L155.80 489.90 L156.50 490.22 L157.20 491.08 L157.90 490.53 L158.60 491.52 L159.30 491.81 L160.00 493.16 L160.70 492.85 L161.40 494.58 L162.10 494.19 L162.80 494.79 L163.50 496.31 L164.20 496.77 L164.90 496.98 L165.60 498.70 L166.30 498.73 L167.00 500.82 L167.70 501.68 L168.40 502.86 L169.10 503.66 L169.80 504.31 L170.50 505.48 L171.20 506.57 L171.90 508.47 L172.60 508.29 L173.30 510.71 L174.00 510.47 L174.70 511.92 L175.40 513.18 L176.10 515.37 L176.80 515.89 L177.50 516.86 L178.20 518.82 L178.90 518.91 L179.60 520.40 L180.30 521.65 L181.00 523.14 L181.70 524.27 L182.40 525.23 L183.10 525.86 L183.80 526.93 L184.50 527.73 L185.20 529.88 L185.90 530.62 L186.60 531.74 L187.30 531.79 L188.00 533.17 L188.70 534.64 L189.40 535.24 L190.10 535.42 L190.80 536.86 L191.50 538.43 L192.20 538.28 L192.90 539.10 L193.60 540.17 L194.30 541.71 L195.00 542.87 L195.70 542.70 L196.40 543.66 L197.10 544.75 L197.80 545.81 L198.50 547.04 L199.20 547.35 L199.90 548.47 L200.60 549.05 L201.30 551.06 L202.00 551.36 L202.70 551.05 L203.40 553.12 L204.10 552.42 L204.80 553.55 L205.50 555.18 L206.20 555.54 L206.90 556.10 L207.60 556.27 L208.30 556.54 L209.00 557.88 L209.70 557.66 L210.40 558.45 L211.10 559.35 L211.80 559.40 L212.50 560.59 L213.20 561.81 L213.90 562.24 L214.60 562.52 L215.30 563.30 L216.00 563.60 L216.70 563.64 L217.40 564.93 L218.10 565.16 L218.80 566.23 L219.50 567.03 L220.20 566.79 L220.90 567.54 L221.60 568.33 L222.30 568.31 L223.00 568.50 L223.70 569.78 L224.40 570.53 L225.10 570.84 L225.80 571.20 L226.50 571.91 L227.20 572.10 L227.90 572.50 L228.60 572.65 L229.30 572.87 L230.00 573.82 L230.70 573.41 L231.40 574.35 L232.10 575.36 L232.80 575.66 L233.50 575.94 L234.20 575.74 L234.90 576.42 L235.60 576.86 L236.30 577.52 L237.00 577.56 L237.70 578.36 L238.40 579.14 L239.10 578.30 L239.80 579.41 L240.50 579.95 L241.20 579.66 L241.90 580.15 L242.60 581.25 L243.30 580.06 L244.00 581.17 L244.70 580.86 L245.40 582.14 L246.10 582.68 L246.80 582.29 L247.50 581.89 L248.20 582.92 L248.90 583.13 L249.60 583.67 L250.30 583.60 L251.00 584.06 L251.70 584.62 L252.40 584.38 L253.10 584.45 L253.80 585.55 L254.50 584.62 L255.20 585.62 L255.90 585.40 L256.60 586.24 L257.30 585.46 L258.00 587.08 L258.70 586.32 L259.40 586.08 L260.10 586.67 L260.80 587.11 L261.50 586.73 L262.20 587.61 L262.90 587.85 L263.60 588.52 L264.30 588.20 L265.00 588.29 L265.70 588.44 L266.40 589.49 L267.10 590.03 L267.80 589.58 L268.50 589.30 L269.20 590.44 L269.90 589.98 L270.60 589.90 L271.30 589.96 L272.00 591.19 L272.70 591.43 L273.40 591.34 L274.10 591.25 L274.80 591.58 L275.50 591.21 L276.20 592.56 L276.90 591.74 L277.60 592.36 L278.30 592.80 L279.00 592.94 L279.70 592.53 L280.40 592.39 L281.10 592.93 L281.80 592.39 L282.50 593.65 L283.20 593.01 L283.90 593.92 L284.60 593.11 L285.30 593.40 L286.00 593.32 L286.70 593.71 L287.40 593.43 L288.10 593.25 L288.80 594.51 L289.50 593.91 L290.20 593.95 L290.90 594.15 L291.60 594.53 L292.30 594.55 L293.00 594.99 L293.70 595.12 L294.40 594.75 L295.10 595.76 L295.80 595.74 L296.50 594.57 L297.20 595.90 L297.90 596.13 L298.60 596.04 L299.30 595.12 L300.00 596.33 L300.70 596.12 L301.40 595.24 L302.10 595.35 L302.80 596.96 L303.50 596.60 L304.20 596.06 L304.90 595.93 L305.60 596.10 L306.30 596.36 L307.00 597.34 L307.70 596.76 L308.40 596.56 L309.10 597.87 L309.80 597.79 L310.50 596.90 L311.20 598.17 L311.90 597.82 L312.60 598.20 L313.30 598.13 L314.00 598.59 L314.70 598.53 L315.40 598.71 L316.10 597.78 L316.80 598.68 L317.50 598.52 L318.20 598.95 L318.90 598.56 L319.60 599.37 L320.30 598.94 L321.00 598.57 L321.70 598.61 L322.40 598.55 L323.10 599.20 L323.80 598.60 L324.50 599.34 L325.20 598.90 L325.90 599.54 L326.60 599.64 L327.30 599.79 L328.00 600.39 L328.70 599.10 L329.40 600.52 L330.10 600.00 L330.80 600.23 L331.50 600.48 L332.20 600.84 L332.90 600.17 L333.60 600.32 L334.30 601.27 L335.00 599.93 L335.70 600.91 L336.40 600.98 L337.10 600.09 L337.80 601.10 L338.50 601.29 L339.20 601.76 L339.90 600.87 L340.60 601.99 L341.30 601.31 L342.00 601.34 L342.70 602.07 L343.40 600.76 L344.10 601.93 L344.80 601.85 L345.50 601.46 L346.20 602.37 L346.90 601.64 L347.60 601.88 L348.30 602.03 L349.00 602.49 L349.70 601.66 L350.40 602.08 L351.10 602.12 L351.80 602.40 L352.50 602.89 L353.20 602.10 L353.90 603.02 L354.60 602.40 L355.30 602.62 L356.00 602.30 L356.70 602.73 L357.40 603.54 L358.10 603.08 L358.80 603.35 L359.50 602.67 L360.20 602.70 L360.90 602.72 L361.60 603.22 L362.30 603.35 L363.00 603.63 L363.70 602.49 L364.40 603.62 L365.10 603.93 L365.80 603.42 L366.50 602.67 L367.20 603.11 L367.90 602.68 L368.60 603.01 L369.30 604.22 L370.00 603.75 L370.70 603.87 L371.40 604.11 L372.10 604.34 L372.80 603.90 L373.50 603.94 L374.20 603.98 L374.90 604.13 L375.60 604.00 L376.30 604.16 L377.00 603.44 L377.70 604.20 L378.40 603.89 L379.10 604.41 L379.80 603.38 L380.50 603.54 L381.20 603.34 L381.90 604.54 L382.60 604.79 L383.30 604.41 L384.00 603.98 L384.70 604.73 L385.40 604.70 L386.10 604.37 L386.80 603.91 L387.50 604.01 L388.20 604.23 L388.90 604.09 L389.60 604.30 L390.30 604.67 L391.00 605.16 L391.70 603.79 L392.40 604.64 L393.10 603.82 L393.80 603.98 L394.50 605.12 L395.20 604.77 L395.90 605.35 L396.60 604.63 L397.30 603.97 L398.00 604.60 L398.70 604.96 L399.40 605.54 L400.10 605.64 L400.80 604.86 L401.50 604.79 L402.20 604.33 L402.90 605.22 L403.60 604.56 L404.30 604.50 L405.00 604.31 L405.70 604.32 L406.40 605.44 L407.10 604.57 L407.80 605.95 L408.50 604.58 L409.20 605.86 L409.90 604.70 L410.60 604.56 L411.30 605.71 L412.00 604.98 L412.70 605.79 L413.40 604.95 L414.10 604.76 L414.80 605.95 L415.50 605.88 L416.20 606.14 L416.90 605.96 L417.60 604.96 L418.30 605.86 L419.00 606.02 L419.70 605.65 L420.40 606.44 L421.10 605.38 L421.80 606.55 L422.50 606.18 L423.20 605.08 L423.90 605.12 L424.60 606.17 L425.30 606.46 L426.00 605.31 L426.70 605.71 L427.40 606.41 L428.10 605.54 L428.80 606.68 L429.50 606.11 L430.20 605.46 L430.90 605.98 L431.60 606.34 L432.30 606.15 L433.00 606.56 L433.70 605.74 L434.40 606.81 L435.10 606.15 L435.80 606.63 L436.50 606.63 L437.20 606.32 L437.90 606.30 L438.60 606.97 L439.30 607.25 L440.00 607.03 L440.70 606.71 L441.40 606.30 L442.10 605.96 L442.80 607.45 L443.50 607.04 L444.20 607.27 L444.90 606.51 L445.60 606.98 L446.30 607.60 L447.00 607.40 L447.70 607.06 L448.40 606.62 L449.10 606.84 L449.80 607.61 L450.50 606.82 L451.20 607.34 L451.90 607.24 L452.60 607.74 L453.30 607.62 L454.00 606.82 L454.70 606.39 L455.40 606.84 L456.10 607.13 L456.80 607.42 L457.50 607.82 L458.20 607.96 L458.90 606.64 L459.60 607.93" fill="none" stroke="#5e5e5e" stroke-width="2.1" stroke-linejoin="round"/>
<path d="M68.50 492.30 L68.50 492.80 L69.20 492.89 L69.90 492.42 L70.60 491.94 L71.30 492.87 L72.00 492.80 L72.70 492.61 L73.40 492.98 L74.10 492.08 L74.80 491.67 L75.50 492.42 L76.20 492.82 L76.90 491.87 L77.60 492.76 L78.30 493.05 L79.00 491.94 L79.70 492.55 L80.40 492.66 L81.10 492.33 L81.80 491.92 L82.50 492.01 L83.20 492.81 L83.90 492.88 L84.60 492.35 L85.30 491.76 L86.00 492.91 L86.70 492.86 L87.40 492.00 L88.10 492.56 L88.80 493.06 L89.50 493.05 L90.20 492.46 L90.90 492.39 L91.60 492.57 L92.30 491.92 L93.00 491.92 L93.70 491.90 L94.40 492.73 L95.10 492.18 L95.80 492.49 L96.50 492.22 L97.20 492.39 L97.90 491.79 L98.60 491.61 L99.30 493.11 L100.00 492.10 L100.70 491.65 L101.40 492.47 L102.10 492.70 L102.80 491.66 L103.50 492.34 L104.20 491.91 L104.90 492.17 L105.60 491.34 L106.30 491.33 L107.00 492.83 L107.70 492.60 L108.40 491.96 L109.10 492.06 L109.80 491.53 L110.50 492.32 L111.20 491.72 L111.90 492.52 L112.60 492.19 L113.30 492.24 L114.00 492.43 L114.70 491.25 L115.40 490.86 L116.10 491.08 L116.80 491.01 L117.50 490.81 L118.20 490.71 L118.90 491.47 L119.60 491.93 L120.30 491.22 L121.00 491.96 L121.70 491.85 L122.40 490.45 L123.10 491.26 L123.80 490.89 L124.50 490.39 L125.20 491.69 L125.90 490.51 L126.60 490.95 L127.30 491.02 L128.00 491.48 L128.70 490.97 L129.40 490.47 L130.10 490.51 L130.80 489.99 L131.50 491.21 L132.20 491.17 L132.90 489.86 L133.60 489.47 L134.30 489.72 L135.00 489.78 L135.70 490.55 L136.40 490.45 L137.10 490.24 L137.80 488.87 L138.50 489.95 L139.20 489.73 L139.90 489.53 L140.60 489.98 L141.30 488.41 L142.00 488.47 L142.70 489.38 L143.40 489.61 L144.10 489.14 L144.80 488.50 L145.50 488.95 L146.20 489.20 L146.90 488.17 L147.60 488.55 L148.30 488.50 L149.00 488.39 L149.70 489.10 L150.40 488.77 L151.10 489.08 L151.80 489.16 L152.50 490.29 L153.20 489.52 L153.90 490.97 L154.60 490.50 L155.30 490.63 L156.00 492.54 L156.70 491.98 L157.40 493.77 L158.10 494.38 L158.80 495.19 L159.50 494.82 L160.20 496.17 L160.90 496.53 L161.60 498.85 L162.30 499.76 L163.00 500.50 L163.70 501.34 L164.40 502.28 L165.10 504.18 L165.80 504.75 L166.50 506.14 L167.20 506.53 L167.90 507.84 L168.60 508.79 L169.30 511.07 L170.00 512.09 L170.70 512.73 L171.40 515.22 L172.10 515.59 L172.80 517.19 L173.50 518.15 L174.20 519.71 L174.90 521.99 L175.60 522.55 L176.30 523.63 L177.00 525.49 L177.70 526.54 L178.40 528.83 L179.10 528.92 L179.80 531.65 L180.50 531.52 L181.20 534.18 L181.90 535.12 L182.60 535.65 L183.30 537.29 L184.00 538.16 L184.70 539.24 L185.40 540.23 L186.10 541.55 L186.80 543.58 L187.50 544.60 L188.20 545.47 L188.90 545.12 L189.60 546.39 L190.30 548.31 L191.00 547.92 L191.70 549.95 L192.40 550.22 L193.10 552.29 L193.80 551.74 L194.50 553.98 L195.20 554.21 L195.90 554.86 L196.60 555.58 L197.30 557.83 L198.00 558.23 L198.70 558.54 L199.40 559.74 L200.10 561.26 L200.80 560.89 L201.50 562.19 L202.20 562.22 L202.90 563.01 L203.60 564.67 L204.30 565.29 L205.00 565.17 L205.70 565.68 L206.40 566.39 L207.10 567.92 L207.80 568.42 L208.50 568.74 L209.20 569.31 L209.90 570.62 L210.60 571.44 L211.30 572.26 L212.00 572.54 L212.70 572.57 L213.40 572.99 L214.10 574.68 L214.80 574.78 L215.50 575.90 L216.20 575.44 L216.90 577.24 L217.60 577.08 L218.30 578.47 L219.00 579.08 L219.70 579.06 L220.40 578.86 L221.10 580.85 L221.80 580.70 L222.50 581.88 L223.20 581.45 L223.90 581.85 L224.60 583.40 L225.30 583.18 L226.00 583.37 L226.70 584.20 L227.40 585.06 L228.10 584.61 L228.80 585.92 L229.50 586.28 L230.20 586.87 L230.90 586.70 L231.60 588.11 L232.30 588.73 L233.00 589.26 L233.70 588.83 L234.40 589.90 L235.10 589.80 L235.80 590.82 L236.50 590.13 L237.20 591.84 L237.90 592.38 L238.60 592.05 L239.30 592.47 L240.00 592.88 L240.70 593.27 L241.40 592.81 L242.10 594.68 L242.80 593.84 L243.50 594.12 L244.20 594.32 L244.90 594.89 L245.60 596.12 L246.30 595.18 L247.00 595.59 L247.70 596.86 L248.40 596.36 L249.10 596.37 L249.80 597.59 L250.50 597.85 L251.20 598.05 L251.90 598.62 L252.60 597.94 L253.30 599.45 L254.00 599.48 L254.70 598.69 L255.40 599.09 L256.10 599.96 L256.80 600.24 L257.50 600.17 L258.20 600.19 L258.90 600.92 L259.60 600.77 L260.30 601.76 L261.00 602.46 L261.70 601.59 L262.40 602.53 L263.10 603.07 L263.80 602.40 L264.50 603.71 L265.20 604.14 L265.90 603.51 L266.60 603.81 L267.30 604.73 L268.00 604.47 L268.70 604.50 L269.40 605.61 L270.10 605.58 L270.80 605.11 L271.50 605.18 L272.20 605.56 L272.90 605.95 L273.60 607.04 L274.30 606.97 L275.00 607.36 L275.70 607.42 L276.40 607.68 L277.10 606.61 L277.80 607.56 L278.50 608.47 L279.20 608.63 L279.90 607.73 L280.60 608.21 L281.30 608.74 L282.00 608.50 L282.70 608.96 L283.40 608.41 L284.10 609.18 L284.80 609.48 L285.50 608.89 L286.20 609.26 L286.90 610.77 L287.60 610.64 L288.30 611.07 L289.00 610.76 L289.70 611.22 L290.40 611.51 L291.10 611.67 L291.80 610.48 L292.50 611.61 L293.20 611.17 L293.90 611.99 L294.60 611.50 L295.30 612.09 L296.00 612.85 L296.70 612.52 L297.40 612.07 L298.10 612.65 L298.80 612.65 L299.50 613.62 L300.20 612.70 L300.90 612.86 L301.60 613.55 L302.30 612.83 L303.00 613.72 L303.70 614.43 L304.40 613.84 L305.10 613.57 L305.80 614.01 L306.50 614.23 L307.20 613.73 L307.90 613.81 L308.60 613.93 L309.30 614.30 L310.00 614.59 L310.70 614.51 L311.40 614.54 L312.10 614.39 L312.80 615.23 L313.50 615.80 L314.20 615.53 L314.90 615.56 L315.60 615.79 L316.30 615.16 L317.00 616.07 L317.70 615.77 L318.40 616.00 L319.10 616.19 L319.80 616.05 L320.50 615.89 L321.20 615.87 L321.90 615.92 L322.60 616.47 L323.30 616.35 L324.00 616.76 L324.70 615.93 L325.40 616.56 L326.10 617.46 L326.80 616.55 L327.50 617.14 L328.20 617.12 L328.90 616.87 L329.60 618.08 L330.30 617.05 L331.00 617.90 L331.70 617.00 L332.40 616.93 L333.10 618.30 L333.80 617.69 L334.50 617.16 L335.20 617.76 L335.90 617.92 L336.60 618.47 L337.30 617.54 L338.00 617.81 L338.70 619.06 L339.40 618.78 L340.10 617.92 L340.80 618.28 L341.50 618.38 L342.20 618.97 L342.90 618.94 L343.60 619.39 L344.30 619.41 L345.00 619.00 L345.70 619.42 L346.40 619.50 L347.10 619.59 L347.80 619.20 L348.50 619.76 L349.20 619.70 L349.90 620.10 L350.60 618.90 L351.30 620.15 L352.00 618.83 L352.70 620.11 L353.40 619.88 L354.10 619.80 L354.80 620.60 L355.50 620.04 L356.20 619.85 L356.90 620.49 L357.60 620.69 L358.30 620.32 L359.00 620.01 L359.70 620.18 L360.40 620.24 L361.10 620.71 L361.80 620.07 L362.50 620.28 L363.20 620.59 L363.90 620.36 L364.60 620.31 L365.30 621.10 L366.00 621.24 L366.70 620.73 L367.40 620.68 L368.10 620.31 L368.80 620.54 L369.50 620.32 L370.20 621.05 L370.90 621.10 L371.60 620.35 L372.30 621.72 L373.00 620.80 L373.70 621.67 L374.40 621.69 L375.10 621.92 L375.80 620.75 L376.50 621.14 L377.20 621.95 L377.90 620.54 L378.60 620.63 L379.30 621.49 L380.00 621.41 L380.70 622.12 L381.40 621.92 L382.10 621.57 L382.80 622.34 L383.50 621.60 L384.20 621.63 L384.90 621.93 L385.60 621.48 L386.30 621.46 L387.00 621.87 L387.70 621.51 L388.40 622.49 L389.10 622.08 L389.80 621.87 L390.50 621.22 L391.20 621.69 L391.90 621.76 L392.60 622.04 L393.30 622.09 L394.00 622.61 L394.70 622.77 L395.40 622.04 L396.10 621.99 L396.80 622.31 L397.50 622.93 L398.20 621.92 L398.90 622.24 L399.60 622.73 L400.30 621.72 L401.00 621.99 L401.70 623.07 L402.40 622.85 L403.10 622.38 L403.80 621.76 L404.50 623.04 L405.20 622.74 L405.90 622.98 L406.60 623.27 L407.30 623.14 L408.00 622.41 L408.70 622.02 L409.40 622.26 L410.10 622.64 L410.80 622.65 L411.50 622.17 L412.20 622.18 L412.90 622.93 L413.60 622.91 L414.30 622.53 L415.00 623.58 L415.70 623.03 L416.40 622.11 L417.10 622.72 L417.80 623.35 L418.50 622.60 L419.20 623.24 L419.90 622.17 L420.60 622.67 L421.30 623.56 L422.00 623.17 L422.70 623.33 L423.40 622.60 L424.10 623.10 L424.80 623.21 L425.50 622.78 L426.20 623.41 L426.90 623.25 L427.60 624.02 L428.30 623.37 L429.00 623.13 L429.70 622.69 L430.40 622.77 L431.10 623.76 L431.80 622.73 L432.50 622.75 L433.20 622.88 L433.90 623.47 L434.60 623.97 L435.30 623.66 L436.00 623.99 L436.70 622.83 L437.40 622.77 L438.10 624.01 L438.80 623.31 L439.50 623.96 L440.20 623.41 L440.90 623.14 L441.60 623.32 L442.30 623.07 L443.00 624.38 L443.70 623.89 L444.40 623.54 L445.10 623.73 L445.80 623.65 L446.50 623.14 L447.20 624.50 L447.90 624.03 L448.60 624.66 L449.30 623.85 L450.00 624.16 L450.70 623.59 L451.40 623.29 L452.10 624.73 L452.80 624.63 L453.50 623.79 L454.20 624.75 L454.90 624.64 L455.60 623.85 L456.30 624.35 L457.00 624.95 L457.70 624.23 L458.40 624.98 L459.10 623.87" fill="none" stroke="#3a3a3a" stroke-width="2.1" stroke-linejoin="round"/>
<line x1="68.40" y1="489.00" x2="68.40" y2="608.60" stroke="#858585" stroke-width="1.9" stroke-linecap="butt"/>
<line x1="70.10" y1="489.00" x2="70.10" y2="608.60" stroke="#a8a8a8" stroke-width="1.5" stroke-linecap="butt"/>
<line x1="66.80" y1="487.50" x2="66.80" y2="656.90" stroke="#000" stroke-width="1.6" stroke-linecap="butt"/>
<path d="M84.40 457.20 L84.40 475.80" fill="none" stroke="#111" stroke-width="2.2"/>
<path d="M79.80 469.50 L84.40 476.60 L89.00 469.50" fill="none" stroke="#111" stroke-width="2.7" stroke-linejoin="miter" stroke-miterlimit="10"/>
<path d="M92.00 464.20 L92.00 482.00" fill="none" stroke="#555" stroke-width="2.2"/>
<path d="M87.20 476.00 L92.00 482.80 L96.80 476.00" fill="none" stroke="#555" stroke-width="2.7" stroke-linejoin="miter" stroke-miterlimit="10"/>
<path d="M87.60 512.30 L87.60 494.60" fill="none" stroke="#a3a3a3" stroke-width="2.0"/>
<path d="M82.90 500.10 L87.60 493.80 L92.30 500.10" fill="none" stroke="#a3a3a3" stroke-width="2.7" stroke-linejoin="miter" stroke-miterlimit="10"/>
<path d="M98.90 512.30 L98.90 494.60" fill="none" stroke="#7c7c7c" stroke-width="2.0"/>
<path d="M94.20 500.10 L98.90 493.80 L103.60 500.10" fill="none" stroke="#7c7c7c" stroke-width="2.7" stroke-linejoin="miter" stroke-miterlimit="10"/>
<path d="M82.2 487 L83.9 479.2 L84.9 479.2 L86.0 487 Z" fill="#1a1a1a"/>
<path d="M97.6 487 L97.7 480.4 Q98.9 478.8 100.1 480.4 L100.2 487 Z" fill="#8a8a8a"/>
<text x="70.60" y="453.80" font-size="19.5" text-anchor="start" fill="#000" textLength="43.5" lengthAdjust="spacingAndGlyphs">CRP</text>
<text x="463.80" y="527.00" font-size="15.5" fill="#000"><tspan font-size="15.5" dy="0.00">P</tspan><tspan font-size="11.5" dy="-3.70">+/+</tspan><tspan font-size="15.5" dy="3.70">/L</tspan><tspan font-size="11.5" dy="-3.70">+/+</tspan></text>
<text x="463.80" y="607.30" font-size="15.5" fill="#555"><tspan font-size="15.5" dy="0.00">P</tspan><tspan font-size="11.5" dy="-3.70">+/+</tspan><tspan font-size="15.5" dy="3.70">/L</tspan><tspan font-size="11.5" dy="-3.70">-/-</tspan></text>
<text x="463.80" y="621.10" font-size="15.5" fill="#999"><tspan font-size="15.5" dy="0.00">P</tspan><tspan font-size="11.5" dy="-3.70">-/-</tspan><tspan font-size="15.5" dy="3.70">/L</tspan><tspan font-size="11.5" dy="-3.70">+/+</tspan></text>
<text x="463.80" y="635.00" font-size="15.5" fill="#1a1a1a"><tspan font-size="15.5" dy="0.00">P</tspan><tspan font-size="11.5" dy="-3.70">-/-</tspan><tspan font-size="15.5" dy="3.70">/L</tspan><tspan font-size="11.5" dy="-3.70">-/-</tspan></text>
</svg>
</body></html>
